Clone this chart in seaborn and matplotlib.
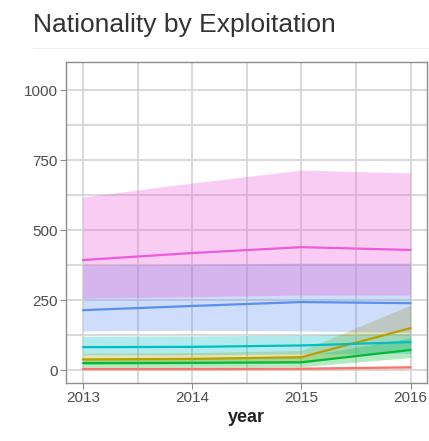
import numpy as np
import pandas as pd
import matplotlib
matplotlib.use("Agg")
import matplotlib.pyplot as plt
import seaborn as sns
from matplotlib.ticker import MultipleLocator

years = [2013, 2014, 2015, 2016]
groups = ["A", "B", "C", "D", "E", "F"]
colors = ["#F8766D", "#B79F00", "#00BA38", "#00BFC4", "#5A8FF0", "#EE5AD8"]

# median line and band (lower/upper) per group
mid = {
    "A": [4, 4, 5, 10],
    "B": [38, 40, 46, 150],
    "C": [25, 26, 28, 72],
    "D": [82, 83, 88, 100],
    "E": [214, 229, 243, 239],
    "F": [393, 418, 439, 429],
}
low = {
    "A": [0, 0, 0, 5],
    "B": [20, 22, 25, 75],
    "C": [10, 10, 12, 45],
    "D": [55, 55, 58, 60],
    "E": [140, 142, 140, 135],
    "F": [257, 262, 268, 268],
}
high = {
    "A": [8, 8, 9, 15],
    "B": [60, 62, 70, 232],
    "C": [42, 44, 48, 115],
    "D": [121, 122, 125, 130],
    "E": [375, 378, 382, 382],
    "F": [618, 668, 714, 704],
}

rows = []
for g in groups:
    for i, y in enumerate(years):
        for v in (low[g][i], mid[g][i], high[g][i]):
            rows.append({"year": y, "n": v, "group": g})
df = pd.DataFrame(rows)

sns.set_theme(style="white")
plt.rcParams["font.family"] = ["Liberation Sans", "DejaVu Sans"]

fig = plt.figure(figsize=(4.29, 4.41), dpi=100)
ax = fig.add_axes([66/429, 1-383/441, (427-66)/429, (383-62)/441])

sns.lineplot(data=df, x="year", y="n", hue="group", palette=colors,
             estimator="median", errorbar=("pi", 100), linewidth=1.6,
             err_kws={"alpha": 0.3, "linewidth": 0}, legend=False, ax=ax)

ax.set_xlim(2012.845, 2016.15)
ax.set_ylim(-46, 1100)
ax.set_xticks(years)
ax.set_yticks([0, 250, 500, 750, 1000])
ax.xaxis.set_minor_locator(MultipleLocator(0.5))
ax.yaxis.set_minor_locator(MultipleLocator(125))
ax.grid(True, which="both", color="#d3d3d3", linewidth=1.2)
ax.set_axisbelow(True)
for s in ax.spines.values():
    s.set_color("#8c8c8c")
    s.set_linewidth(1.0)
ax.tick_params(axis="both", which="major", length=4, width=0.8, color="#8c8c8c",
               labelsize=11, labelcolor="#4d4d4d", bottom=True, left=True, pad=2)
ax.tick_params(which="minor", length=0)
ax.set_ylabel("")
ax.set_xlabel("year", fontsize=13, fontweight="bold", color="#222222", labelpad=3)

fig.text(33/429, 1-32/441, "Nationality by Exploitation", fontsize=19,
         color="#333333", ha="left", va="baseline")
fig.add_artist(plt.Line2D([33/429, 1.0], [1-48/441, 1-48/441],
                          color="#f0f0f0", linewidth=0.8, transform=fig.transFigure))

fig.savefig("out.png", dpi=100)
